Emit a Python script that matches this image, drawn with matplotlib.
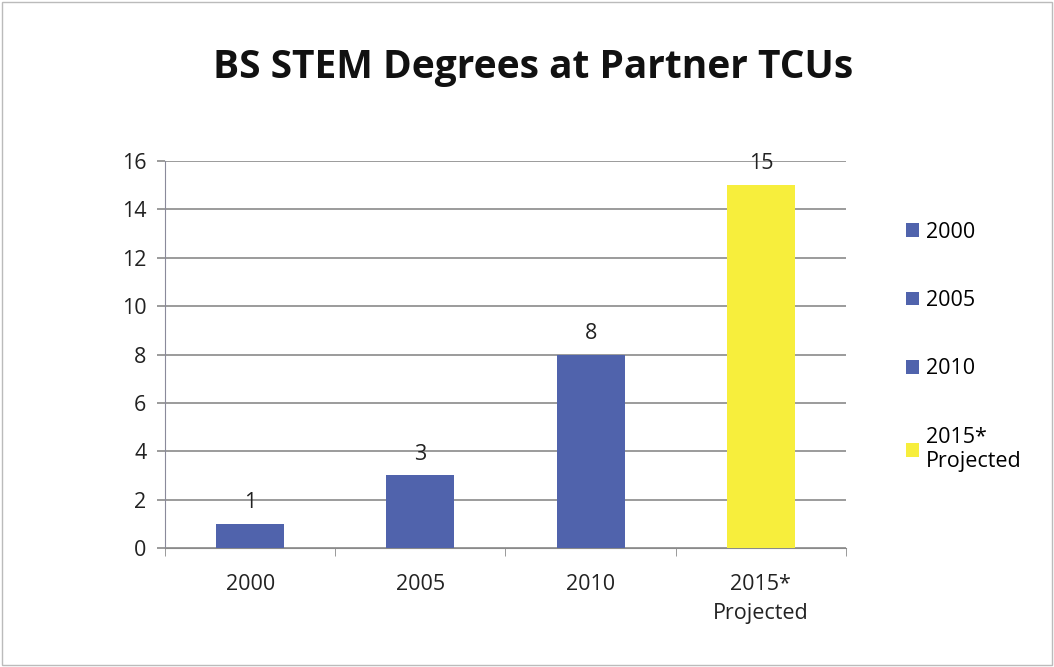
import matplotlib.pyplot as plt
from matplotlib.patches import Patch, Rectangle

categories = ["2000", "2005", "2010", "2015*\nProjected"]
degrees = [1, 3, 8, 15]
bar_colors = ["#5063AC", "#5063AC", "#5063AC", "#F7EE3C"]
y_ticks = [0, 2, 4, 6, 8, 10, 12, 14, 16]

plt.rcParams['font.family'] = ['Open Sans', 'DejaVu Sans']
fs = 15.5

fig = plt.figure(figsize=(10.54, 6.67), dpi=100)
fig.patches.append(Rectangle((0.002, 0.003), 0.996, 0.994, transform=fig.transFigure,
                             fill=False, edgecolor="#BBBBBB", linewidth=1))
ax = fig.add_axes([0.1566, 0.1784, 0.646, 0.5802])

x = range(len(categories))
ax.bar(x, degrees, width=0.4, color=bar_colors, zorder=3)
for xi, v in zip(x, degrees):
    ax.text(xi, v + 0.45, str(v), ha="center", va="bottom", fontsize=fs, color="#222222")

ax.set_xlim(-0.5, len(categories) - 0.5)
ax.set_ylim(0, 16)
ax.set_yticks(y_ticks)
ax.yaxis.grid(True, color="#8A8A8A", linewidth=1.2, zorder=0)
ax.set_axisbelow(True)

ax.set_xticks(list(x))
ax.set_xticklabels(categories, fontsize=fs, linespacing=1.45, color="#222222")
ax.set_xticks([i - 0.5 for i in range(len(categories) + 1)], minor=True)
ax.tick_params(axis="x", which="major", length=0, pad=19)
ax.tick_params(axis="x", which="minor", length=6, color="#8A8A8A")
ax.tick_params(axis="y", length=5.5, width=1.2, color="#8A8A8A", labelsize=fs,
               labelcolor="#222222", pad=8)

for side in ["top", "right"]:
    ax.spines[side].set_visible(False)
ax.spines["left"].set_color("#8A8A9A")
ax.spines["bottom"].set_color("#8A8A8A")

fig.text(0.506, 0.883, "BS STEM Degrees at Partner TCUs", ha="center", va="baseline",
         fontsize=28, fontweight="bold", color="#111111")

handles = [Patch(facecolor=c, edgecolor="none") for c in bar_colors]
fig.legend(handles, categories, loc="center left", bbox_to_anchor=(0.849, 0.480),
           frameon=False, fontsize=fs, handlelength=0.6, handleheight=0.6,
           handletextpad=0.35, labelspacing=2.2, borderpad=0)

plt.savefig("out.png", dpi=100)
